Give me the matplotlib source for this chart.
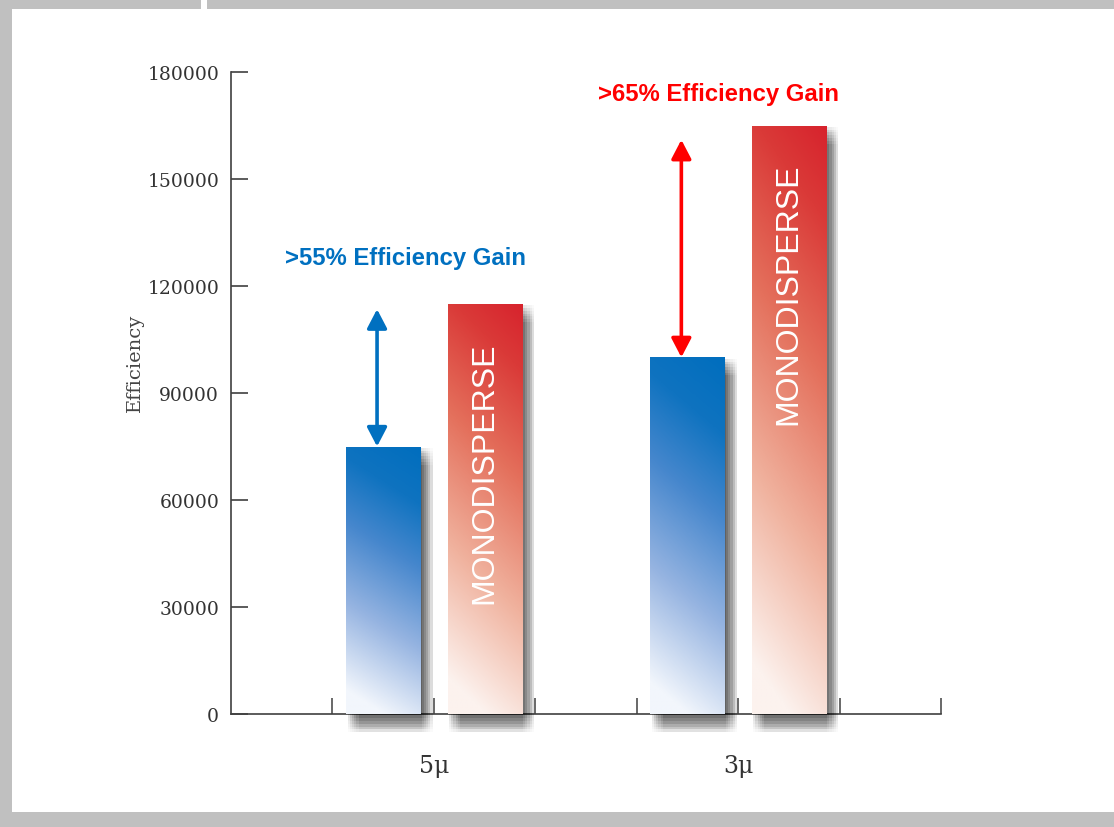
import numpy as np
import matplotlib
matplotlib.use('Agg')
import matplotlib.pyplot as plt
from matplotlib.patches import Rectangle
from matplotlib import patheffects as pe
from matplotlib.colors import LinearSegmentedColormap

# ---------------- data ----------------
categories = ['5μ', '3μ']
standard_values = [75000, 100000]
monodisperse_values = [115000, 165000]
gain_labels = ['>55% Efficiency Gain', '>65% Efficiency Gain']
gain_colors = ['#0070C0', '#FF0000']
arrow_tops = [113500, 161000]
gain_text_x = [1.72, 4.81]
gain_text_y = [128000, 174000]
y_ticks = [0, 30000, 60000, 90000, 120000, 150000, 180000]
bar_label = 'MONODISPERSE'
y_label = 'Efficiency'

W, H = 1114, 828
fig = plt.figure(figsize=(W / 100, H / 100), dpi=100)
fig.patch.set_facecolor('white')

gray = '#C0C0C0'


def px_rect(x0, y0, x1, y1, color):
    fig.add_artist(Rectangle((x0 / W, 1 - y1 / H), (x1 - x0) / W, (y1 - y0) / H,
                             transform=fig.transFigure, facecolor=color,
                             edgecolor='none', zorder=0))


px_rect(0, 0, W, 10, gray)
px_rect(0, 0, 11.5, H, gray)
px_rect(0, 813, W, H, gray)
px_rect(201, 0, 207, 10, 'white')

ax = fig.add_axes([231 / W, 1 - 715 / H, 710 / W, 642 / H])
ax.set_facecolor('none')
ax.set_xlim(0, 7)
ax.set_ylim(0, 180000)

axis_col = '#404040'
for s in ['top', 'right']:
    ax.spines[s].set_visible(False)
for s in ['left', 'bottom']:
    ax.spines[s].set_color(axis_col)
    ax.spines[s].set_linewidth(1.2)

ax.set_yticks(y_ticks)
ax.set_yticklabels([str(v) for v in y_ticks])
ax.tick_params(axis='y', direction='in', length=12.5, width=1.2, color=axis_col,
               labelsize=13.5, labelcolor='#333333', pad=8.5)
for lab in ax.get_yticklabels():
    lab.set_family('DejaVu Serif')

centers = np.arange(len(categories)) * 3 + 2
ax.xaxis.remove_overlapping_locs = False
ax.set_xticks(np.arange(1, 8))
ax.tick_params(axis='x', which='major', direction='in', length=11.5, width=1.1,
               color=axis_col, labelbottom=False)
ax.set_xticks(centers, minor=True)
ax.set_xticklabels(categories, minor=True)
ax.tick_params(axis='x', which='minor', length=0, pad=29, labelsize=17,
               labelcolor='#333333', labelbottom=True)
for lab in ax.get_xticklabels(minor=True):
    lab.set_family('DejaVu Serif')

ax.text(-0.136, 0.548, y_label, transform=ax.transAxes, rotation=90,
        ha='center', va='center', family='DejaVu Serif', fontsize=14,
        color='#444444')

blue_stops = [(0.0, (242/255, 246/255, 252/255)), (0.3, (150/255, 180/255, 225/255)),
              (0.58, (70/255, 135/255, 205/255)), (0.8, (15/255, 115/255, 192/255)),
              (1.0, (0/255, 110/255, 190/255))]
red_stops = [(0.0, (252/255, 242/255, 238/255)), (0.3, (240/255, 178/255, 158/255)),
             (0.6, (228/255, 112/255, 92/255)), (0.85, (218/255, 58/255, 56/255)),
             (1.0, (215/255, 35/255, 45/255))]


def gradient(stops):
    ny, nx = 300, 60
    yy = np.linspace(0, 1, ny)[:, None]
    xx = np.linspace(0, 1, nx)[None, :]
    t = np.clip(0.92 * yy + 0.16 * (xx - 0.5), 0, 1)
    cmap = LinearSegmentedColormap.from_list('g', stops)
    return cmap(t)


shadow_fx = [pe.SimplePatchShadow(offset=(dx, dy), shadow_rgbFace='black', alpha=0.018)
             for dx in np.linspace(1.0, 9.0, 6) for dy in np.linspace(-1.0, -13, 7)]
shadow_fx.append(pe.Normal())

bar_w = 0.73
blue_bars = ax.bar(centers - 0.5, standard_values, width=bar_w, color='white',
                   edgecolor='none', zorder=3, clip_on=False)
red_bars = ax.bar(centers + 0.5, monodisperse_values, width=bar_w, color='white',
                  edgecolor='none', zorder=3, clip_on=False)

for bars, stops in [(blue_bars, blue_stops), (red_bars, red_stops)]:
    img = gradient(stops)
    for b in bars:
        b.set_path_effects(shadow_fx)
        x0 = b.get_x()
        im = ax.imshow(img, origin='lower', aspect='auto', zorder=4,
                       extent=(x0, x0 + b.get_width(), 0, b.get_height()),
                       interpolation='bilinear')
        im.set_clip_path(b)

ax.set_xlim(0, 7)
ax.set_ylim(0, 180000)

for i, c in enumerate(centers):
    ax.annotate(bar_label, xy=(c + 0.5, monodisperse_values[i]), xytext=(0, -27),
                textcoords='offset points', rotation=90, ha='center', va='top',
                color='white', fontsize=23, family='Liberation Sans', zorder=6)
    ax.annotate('', xy=(c - 0.56, arrow_tops[i]), xytext=(c - 0.56, standard_values[i]),
                arrowprops=dict(arrowstyle='<|-|>,head_length=1.15,head_width=0.6',
                                color=gain_colors[i], lw=2.6, shrinkA=0, shrinkB=0),
                zorder=6)
    ax.text(gain_text_x[i], gain_text_y[i], gain_labels[i], color=gain_colors[i],
            fontsize=17.2, fontweight='bold', family='Liberation Sans',
            ha='center', va='center', zorder=6)

fig.savefig('out.png', dpi=100, facecolor=fig.get_facecolor())
